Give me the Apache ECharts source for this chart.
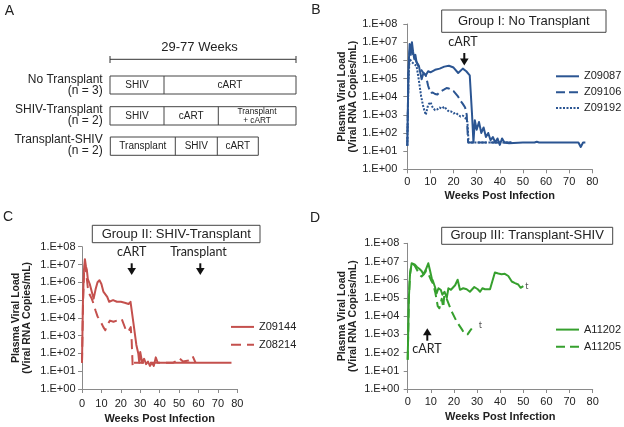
<!DOCTYPE html>
<html><head><meta charset="utf-8">
<script src="https://cdn.jsdelivr.net/npm/echarts@6/dist/echarts.min.js"></script>
<style>html,body{margin:0;padding:0;background:#fff}#c{width:624px;height:427px}</style>
</head><body><div id="c"></div>
<script>
// ---------- data ----------
const yTickLabels = ['1.E+00','1.E+01','1.E+02','1.E+03','1.E+04','1.E+05','1.E+06','1.E+07','1.E+08'];
const xTickLabels = ['0','10','20','30','40','50','60','70','80'];

// Group I: No Transplant  [week, copies/mL]
const Z09087 = [[0,20],[0.5,3e5],[1,8e6],[1.5,2e6],[2,1e7],[2.5,3e6],[3,1.2e6],[3.5,2e6],[4,8e5],[4.5,1e6],[5,5e5],[5.5,4e5],[6.2,9e4],[7,2e5],[8,1.5e5],[9,2.5e5],[10,2.2e5],[12,3e5],[14,3.5e5],[16,4.5e5],[18,5e5],[20,4e5],[22,2e5],[24,3.5e5],[25.5,2.5e5],[27,1.5e5],[28,1e3],[28.6,30],[29.2,5e2],[30,1.5e2],[31,4e2],[32,1e2],[33,2e2],[34,60],[35,1e2],[36,40],[37,60],[38,30],[39,50],[40,22],[41,50],[42,30],[44,27],[46,28],[50,30],[55,30],[56,33],[57,30],[60,30],[70,30],[74,30],[75,17],[76,30],[77,30]];
const Z09106 = [[0,20],[0.5,2e5],[1,3e6],[1.5,8e6],[2,4e6],[2.5,2e6],[3,1.5e6],[4,8e5],[5,4e5],[6,3e5],[7,2e5],[8,1.5e5],[9,4e4],[10,1.6e4],[11,1.7e4],[12,1.4e4],[13,1.3e4],[14,1.8e4],[16,2.5e4],[17,3e4],[18,2.8e4],[20,2e4],[22,1e4],[23,6e3],[24,4e3],[25,2.5e3],[25.7,1e3],[26.3,30],[30,30],[35,30],[40,30],[45,30]];
const Z09192 = [[0,20],[0.5,1e5],[1,1.2e6],[2,8e5],[3,6e5],[4,5e5],[5,8e4],[6,1e4],[7,2.5e3],[8,1e3],[9,3.5e3],[10,5e3],[11,2.5e3],[12,1.8e3],[13,2e3],[14,2.5e3],[15,2.2e3],[16,2.8e3],[17,2e3],[18,1.5e3],[19,1.5e3],[20,1.2e3],[21,1.3e3],[22,1e3],[23,800],[24,900],[25,700],[26,400],[26.5,30],[30,30],[40,30],[45,30]];

// Group II: SHIV-Transplant
const Z09144 = [[0,30],[0.5,1e5],[1,5e6],[1.5,2e7],[2,8e6],[2.5,5e6],[3,1.5e6],[4,8e5],[5,3e5],[6,1.2e5],[7,4e5],[8,1e6],[9,1.3e6],[10,8e5],[11,3e5],[12,2.5e5],[13,1.5e5],[14,8e4],[15,8e4],[16,1e5],[18,8e4],[20,8e4],[22,7e4],[24,6e4],[25,8e4],[26,1e5],[26.5,5e3],[27,2e3],[28,3e2],[29,1e2],[29.5,30],[30,1.2e2],[31,30],[32,50],[33,25],[34,35],[35,20],[36,30],[37,20],[38,60],[39,30],[45,30],[50,30],[60,30],[70,30],[77,30]];
const Z08214 = [[0,30],[0.5,5e4],[1,3e6],[1.5,1e7],[2,5e6],[3,5e5],[4,2e5],[5,1.2e5],[6,6e4],[7,2.5e4],[8,1.2e4],[9,8e3],[10,5e3],[11,3e3],[12,2e3],[13,4e3],[14.4,7e3],[16.2,6e3],[18,7e3],[20.4,9e3],[21.3,1.1e4],[23,1.6e3],[24.2,2e3],[25.1,3e3],[25.6,5e2],[26.1,18],[26.6,30],[30,30],[40,30],[47,30],[49,40],[50,55],[52,35],[55,40],[57,70],[58,80],[58.5,30]];

// Group III: Transplant-SHIV
const A11202 = [[0,40],[0.5,1e5],[1,2e6],[1.7,8e6],[3,7e6],[4,5e6],[5,4e6],[6,3e6],[6.8,2e6],[7.8,3.5e6],[8.9,8e6],[9.7,3e6],[10.4,1.2e6],[11,8e5],[11.8,4e5],[12.5,1.8e5],[13.3,3.4e5],[14.3,2.8e5],[15,1.5e5],[15.9,2.2e5],[16.9,1e5],[17.6,3.4e5],[18.7,2.8e5],[20.5,5e5],[21.6,1e6],[22.6,2.8e5],[24,3.4e5],[25.5,3e5],[26.9,2.2e5],[28.8,4e5],[30.3,3e5],[31.3,2.2e5],[32.3,3.4e5],[33.4,3e5],[35.6,3e5],[37.7,2.5e6],[39.2,2.2e6],[40.6,2e6],[42,2.1e6],[43.5,1.6e6],[45,8e5],[46.4,6.5e5],[47.8,5.5e5],[48.8,3.6e5],[50,4.5e5]];
const A11205 = [[0,40],[0.5,1e5],[1,2e6],[1.7,8e6],[3,6e6],[4,3.5e6],[5,2e6],[6,1.5e6],[7,2e6],[8,3e6],[9,2e6],[10,1e6],[11,6e5],[12,1.8e5],[13,3.5e4],[13.7,2.7e4],[14.7,9e4],[15.4,3e4],[15.8,1.4e5],[17,8e4],[19,1.8e4],[21.2,5e3],[23.3,2e3],[24.8,1e3],[25.9,1e3],[27,1.6e3],[27.7,2.1e3]];

// ---------- styling ----------
const FF = '"Liberation Sans", Arial, sans-serif';
const FC = 'Lato, "Open Sans", sans-serif';
const AX = '#8a8a8a';
const BLUE = '#2b5592', RED = '#c4504d', GREEN = '#36a02e';

function xAx(i, gap, margin){
  return {gridIndex:i, type:'value', min:0, max:80, interval:10,
    axisLine:{lineStyle:{color:AX,width:1}}, axisTick:{show:true,length:4,lineStyle:{color:AX}},
    splitLine:{show:false},
    axisLabel:{margin:margin, fontSize:11, color:'#222', fontFamily:FF, formatter:(v)=>xTickLabels[Math.round(v/10)]},
    name:'Weeks Post Infection', nameLocation:'middle', nameGap:gap,
    nameTextStyle:{fontWeight:'bold', fontSize:11, color:'#222', fontFamily:FF}};
}
function yAx(i, gap, margin){
  return {gridIndex:i, type:'log', logBase:10, min:1, max:1e8, splitNumber:8,
    axisLine:{show:true,lineStyle:{color:AX,width:1}}, axisTick:{show:true,length:4,lineStyle:{color:AX}},
    splitLine:{show:false}, minorTick:{show:false},
    axisLabel:{margin:margin, fontSize:11, color:'#222', fontFamily:FF, formatter:(v)=>yTickLabels[Math.round(Math.log10(v))]},
    name:'Plasma Viral Load\n(Viral RNA Copies/mL)', nameLocation:'middle', nameGap:gap,
    nameTextStyle:{fontWeight:'bold', fontSize:10.5, lineHeight:11, color:'#222', fontFamily:FF}};
}
function ser(name, data, idx, color, dash, width){
  return {name:name, type:'line', xAxisIndex:idx, yAxisIndex:idx, data:data, symbol:'none', showSymbol:false,
    lineStyle:{color:color, width:width||2, type:dash||'solid', cap:'butt', join:'round'}, itemStyle:{color:color},
    emphasis:{disabled:true}, z:3};
}
function T(x,y,s,o){ o=o||{}; return {type:'text', x:x, y:y, style:{text:s, font:(o.b?'bold ':'')+(o.fs||12)+'px '+(o.ff||FF), fill:o.c||'#222', align:o.a||'center', verticalAlign:o.v||'middle', lineHeight:o.lh}}; }
function R(x,y,w,h){ return {type:'rect', shape:{x:x,y:y,width:w,height:h}, style:{fill:'none', stroke:'#444', lineWidth:1}}; }
function L(x1,y1,x2,y2,c,w){ return {type:'line', shape:{x1:x1,y1:y1,x2:x2,y2:y2}, style:{stroke:c||'#444', lineWidth:w||1}}; }
function arrowDown(x,y1,y2){ return [L(x,y1,x,y2-5,'#111',2), {type:'polygon', shape:{points:[[x-4.3,y2-7],[x+4.3,y2-7],[x,y2]]}, style:{fill:'#111'}}]; }
function arrowUp(x,y1,y2){ return [L(x,y1+5,x,y2,'#111',2), {type:'polygon', shape:{points:[[x-4.3,y1+7],[x+4.3,y1+7],[x,y1]]}, style:{fill:'#111'}}]; }

const graphics = [].concat(
  // panel letters
  [T(9.5,11.5,'A',{fs:14}), T(316,10.5,'B',{fs:14}), T(8,217.5,'C',{fs:14}), T(315,218,'D',{fs:14})],
  // Panel A diagram
  [T(199.5,47.7,'29-77 Weeks',{fs:13}), L(110,59.3,296,59.3,'#333'), L(110,56,110,63,'#333'), L(296,56,296,63,'#333'),
   R(110,76,186,18), L(164,76,164,94),
   R(110,106.7,186,18.3), L(164,106.7,164,125), L(218.3,106.7,218.3,125),
   R(110.3,137,148,18.3), L(175.3,137,175.3,155.3), L(217.3,137,217.3,155.3),
   T(137,85,'SHIV',{fs:10}), T(230,85,'cART',{fs:10}),
   T(137,116,'SHIV',{fs:10}), T(191.2,116,'cART',{fs:10}), T(257,111.3,'Transplant',{fs:8.3}), T(257,120.7,'+ cART',{fs:8.3}),
   T(142.8,146.2,'Transplant',{fs:10}), T(196.3,146.2,'SHIV',{fs:10}), T(237.8,146.2,'cART',{fs:10}),
   T(102.7,80,'No Transplant',{a:'right'}), T(102.7,91,'(n = 3)',{a:'right'}),
   T(102.7,109.5,'SHIV-Transplant',{a:'right'}), T(102.7,120.5,'(n = 2)',{a:'right'}),
   T(102.7,139.5,'Transplant-SHIV',{a:'right'}), T(102.7,151,'(n = 2)',{a:'right'})],
  // title boxes
  [R(441.7,10,164.3,22.3), T(523.8,21.3,'Group I: No Transplant',{fs:13}),
   R(92.3,225.3,167.7,17.4), T(176.2,234,'Group II: SHIV-Transplant',{fs:13}),
   R(441.7,227.3,171,17), T(527.2,235.8,'Group III: Transplant-SHIV',{fs:13})],
  // annotations
  [T(463,42,'cART',{fs:12.5,ff:FC}), T(131.7,252,'cART',{fs:12.5,ff:FC}), T(198.5,252,'Transplant',{fs:12.5,ff:FC}), T(427,349.3,'cART',{fs:12.5,ff:FC})],
  arrowDown(464.3,53,65.5), arrowDown(131.7,263.3,275), arrowDown(200.3,263.3,275), arrowUp(427.3,328.3,340.7)
);

const legendCommon = {orient:'vertical', itemWidth:23, itemHeight:14, selectedMode:false,
  itemStyle:{opacity:0, borderWidth:0}, textStyle:{fontSize:11, color:'#222', fontFamily:FF}};

const chart = echarts.init(document.getElementById('c'), null, {renderer:'canvas'});
chart.setOption({
  animation:false,
  backgroundColor:'#fff',
  grid:[
    {left:407.3, top:24, width:185, height:145.3, containLabel:false, outerBoundsMode:'none'},
    {left:82, top:246.7, width:155.3, height:142.3, containLabel:false, outerBoundsMode:'none'},
    {left:407.7, top:243.3, width:185, height:145.7, containLabel:false, outerBoundsMode:'none'}
  ],
  xAxis:[xAx(0,21,7), xAx(1,24,9), xAx(2,22,7.5)],
  yAxis:[yAx(0,48.5,10), yAx(1,49.8,6.5), yAx(2,49.5,8.4)],
  legend:[
    Object.assign({data:['Z09087','Z09106','Z09192'], left:550, top:65.7, itemGap:4.7}, legendCommon),
    Object.assign({data:['Z09144','Z08214'], left:225, top:316.3, itemGap:6.7}, legendCommon),
    Object.assign({data:['A11202','A11205'], left:550, top:319, itemGap:6}, legendCommon)
  ],
  series:[
    ser('Z09087', Z09087, 0, BLUE, 'solid', 2),
    ser('Z09106', Z09106, 0, BLUE, [9,4], 2),
    ser('Z09192', Z09192, 0, BLUE, [2,1.5], 2),
    ser('Z09144', Z09144, 1, RED, 'solid', 2),
    ser('Z08214', Z08214, 1, RED, [10,6], 2),
    Object.assign(ser('A11202', A11202, 2, GREEN, 'solid', 2), {endLabel:{show:true, formatter:'t', fontSize:9, color:'#555', fontFamily:FC, distance:2}}),
    Object.assign(ser('A11205', A11205, 2, GREEN, [9,5], 2), {endLabel:{show:true, formatter:'t', fontSize:9, color:'#555', fontFamily:FC, distance:2, offset:[5,-3]}})
  ],
  graphic:{elements:graphics}
});
</script></body></html>
